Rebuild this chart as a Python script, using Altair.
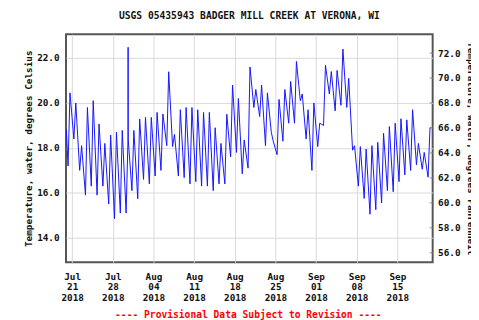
import altair as alt
import pandas as pd

# ---- text ----
title_text = "USGS 05435943 BADGER MILL CREEK AT VERONA, WI"
footer_text = "---- Provisional Data Subject to Revision ----"
y_title = "Temperature, water, degrees Celsius"
y2_title = "Temperature, water, degrees Fahrenheit"

# ---- data ----
days = [d.strftime("%Y-%m-%d") for d in pd.date_range("2018-07-20", "2018-09-20", freq="D")]
daily_min = [17.2, 18.4, 17.0, 15.9, 16.3, 15.9, 16.3, 15.5, 14.85, 15.1,
             15.1, 16.1, 15.74, 16.6, 16.4, 16.75, 17.0, 18.1, 18.06, 16.75,
             16.68, 16.4, 16.5, 16.3, 16.3, 16.1, 16.4, 16.4, 17.6, 17.8,
             16.85, 17.1, 19.8, 19.4, 18.1, 18.7, 17.7, 18.3, 19.1, 19.1,
             20.1, 18.4, 17.0, 18.06, 19.0, 20.4, 19.65, 19.9, 19.8, 17.9,
             16.3, 15.75, 15.05, 15.25, 15.55, 16.1, 16.05, 16.5, 16.8, 17.0,
             17.25, 17.05, 16.7]
daily_max = [20.45, 20.0, 18.1, 19.8, 20.1, 19.07, 18.2, 18.57, 18.7, 18.78,
             18.5, 18.78, 19.29, 19.36, 19.36, 19.58, 19.51, 21.39, 18.6, 19.7,
             19.8, 19.8, 19.7, 19.58, 19.58, 18.9, 18.2, 19.5, 20.8, 20.2,
             18.35, 21.6, 20.6, 20.8, 20.45, 18.3, 20.16, 20.6, 20.96, 21.85,
             20.4, 19.7, 20.0, 19.1, 21.68, 21.4, 21.45, 22.4, 21.1, 18.1,
             18.06, 17.95, 18.1, 18.25, 18.65, 18.95, 19.1, 19.3, 19.25, 19.7,
             18.2, 17.8, 18.9]
extra_times = ["2018-07-20T00:00:00Z", "2018-07-30T15:15:00Z", "2018-07-30T15:30:00Z",
               "2018-09-20T20:00:00Z"]
extra_values = [18.8, 22.48, 18.4, 18.9]

tick_dates = ["2018-07-21", "2018-07-28", "2018-08-04", "2018-08-11", "2018-08-18",
              "2018-08-25", "2018-09-01", "2018-09-08", "2018-09-15"]
c_ticks = [14, 16, 18, 20, 22]
f_ticks = [56, 58, 60, 62, 64, 66, 68, 70, 72]
c_domain = [12.91, 23.06]

# ---- build table ----
rows = []
for d, lo, hi in zip(days, daily_min, daily_max):
    rows.append({"t": d + "T07:00:00Z", "v": lo})
    rows.append({"t": d + "T15:00:00Z", "v": hi})
for t, v in zip(extra_times, extra_values):
    rows.append({"t": t, "v": v})
df = pd.DataFrame(rows).sort_values("t")

f_df = pd.DataFrame({"f": f_ticks})
f_domain = [c * 1.8 + 32 for c in c_domain]

W, H = 373, 232
FONT = "DejaVu Sans Mono"

def dt(s, h=0, mi=0):
    y, m, d = map(int, s.split("-"))
    return alt.DateTime(year=y, month=m, date=d, hours=h, minutes=mi, utc=True)

x_enc = alt.X(
    "t:T",
    scale=alt.Scale(type="utc", domain=[dt("2018-07-19", 22, 30), dt("2018-09-21", 2, 0)]),
    axis=alt.Axis(
        title=None, values=[dt(s) for s in tick_dates], grid=True,
        labelExpr="[utcFormat(datum.value, '%b'), utcFormat(datum.value, '%d'), utcFormat(datum.value, '%Y')]",
        labelLineHeight=11, labelAlign="center", labelBaseline="top", labelPadding=9,
        labelFlush=False, labelOverlap=False,
    ),
)

line = alt.Chart(df).mark_line(color="#1414ff", strokeWidth=1, interpolate="linear").encode(
    x=x_enc,
    y=alt.Y("v:Q", scale=alt.Scale(domain=c_domain, nice=False, zero=False),
            axis=alt.Axis(title=y_title, values=c_ticks, format=".1f", grid=True,
                          labelPadding=7, titlePadding=3)),
)

right = alt.Chart(f_df).mark_rule(color="#888888", strokeWidth=1).encode(
    y=alt.Y("f:Q", scale=alt.Scale(domain=f_domain, nice=False, zero=False),
            axis=alt.Axis(title=y2_title, orient="right", values=f_ticks, format=".1f",
                          grid=False, labelPadding=5, titlePadding=6)),
    x=alt.value(W - 3), x2=alt.value(W),
)

footer = alt.Chart(pd.DataFrame({"a": [0]})).mark_text(
    text=footer_text, color="#ff0000", font=FONT, fontWeight="bold", fontSize=9.8,
    align="center", baseline="middle",
).encode(x=alt.value(W / 2 - 1), y=alt.value(286))

chart = alt.layer(line, right, footer).resolve_scale(y="independent").properties(
    width=W, height=H,
    autosize=alt.AutoSizeParams(type="none"),
    padding={"left": 59, "top": 24, "right": 39, "bottom": 56},
    title=alt.TitleParams(title_text, anchor="middle", font=FONT, fontWeight="bold",
                          fontSize=9.8, color="#111111", offset=14),
).configure_view(stroke="#555555", strokeWidth=2).configure_axis(
    labelFont=FONT, labelFontWeight="bold", labelFontSize=9.5, labelColor="#111111",
    titleFont=FONT, titleFontWeight="bold", titleFontSize=9.5, titleColor="#111111",
    domain=False, ticks=False, tickSize=0, gridColor="#d9d9d9", gridWidth=1,
)

chart.save("out.html", embed_options={"renderer": "svg", "actions": False})
